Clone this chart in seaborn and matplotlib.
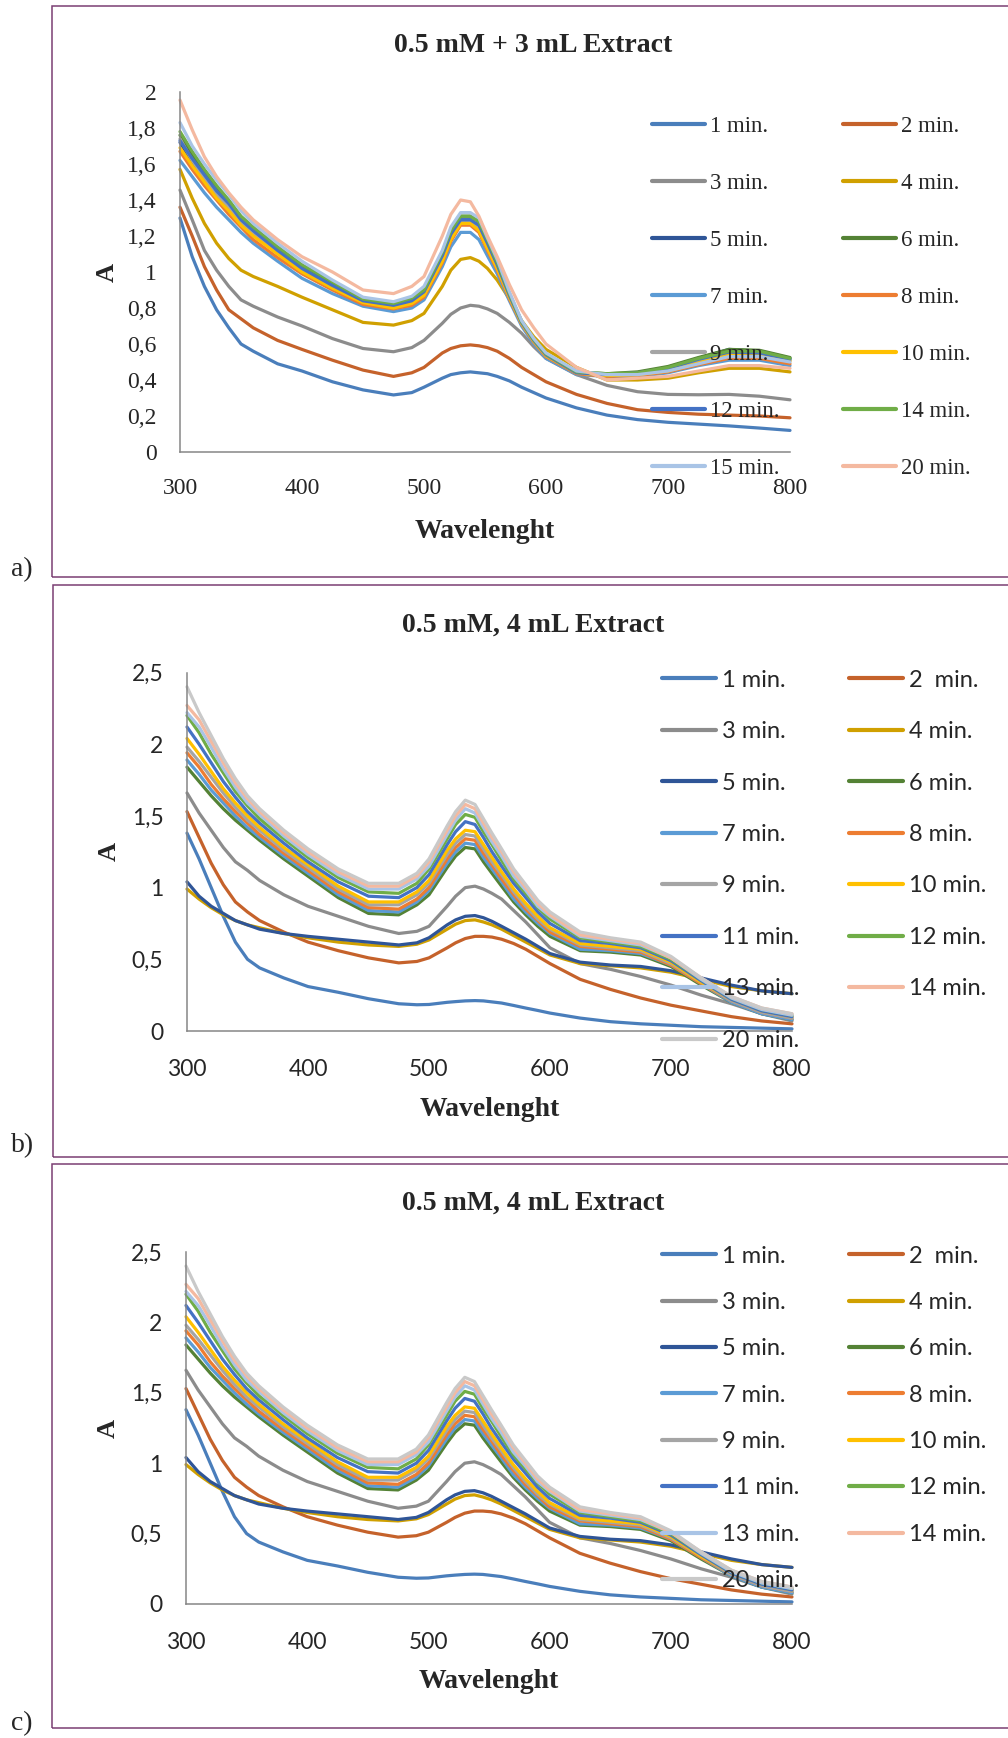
import numpy as np
import pandas as pd
import matplotlib
matplotlib.use("Agg")
import matplotlib.pyplot as plt
import seaborn as sns
from matplotlib.patches import Rectangle

# wavelengths (nm) sampled from the spectra
wl = [300, 310, 320, 330, 340, 350, 360, 380, 400, 425, 450, 475, 490, 500, 515, 522,
      530, 538, 545, 552, 560, 570, 580, 590, 600, 625, 650, 675, 700, 725, 750, 775, 800]

# ---- panel a: 0.5 mM + 3 mL extract ----
a_labels = ["1 min.", "2 min.", "3 min.", "4 min.", "5 min.", "6 min.", "7 min.",
            "8 min.", "9 min.", "10 min.", "12 min.", "14 min.", "15 min.", "20 min."]
a_1 = [1.30, 1.085, 0.92, 0.79, 0.69, 0.60, 0.56, 0.49, 0.45, 0.39, 0.345, 0.317, 0.33, 0.36,
       0.41, 0.43, 0.44, 0.445, 0.44, 0.435, 0.42, 0.395, 0.36, 0.33, 0.30, 0.245, 0.205,
       0.18, 0.165, 0.155, 0.145, 0.133, 0.12]
a_2 = [1.36, 1.20, 1.03, 0.90, 0.79, 0.74, 0.69, 0.62, 0.57, 0.51, 0.455, 0.42, 0.44, 0.47,
       0.55, 0.575, 0.59, 0.595, 0.59, 0.58, 0.56, 0.52, 0.47, 0.43, 0.39, 0.32, 0.27,
       0.235, 0.22, 0.21, 0.205, 0.20, 0.19]
a_3 = [1.455, 1.29, 1.12, 1.01, 0.92, 0.845, 0.81, 0.75, 0.70, 0.63, 0.575, 0.557, 0.58, 0.62,
       0.715, 0.765, 0.80, 0.815, 0.81, 0.795, 0.77, 0.72, 0.66, 0.585, 0.52, 0.43, 0.37,
       0.335, 0.32, 0.318, 0.32, 0.31, 0.29]
a_4 = [1.57, 1.41, 1.27, 1.16, 1.075, 1.01, 0.975, 0.92, 0.86, 0.79, 0.72, 0.705, 0.73, 0.77,
       0.92, 1.01, 1.07, 1.08, 1.06, 1.02, 0.955, 0.85, 0.73, 0.64, 0.57, 0.47, 0.40,
       0.40, 0.41, 0.44, 0.465, 0.465, 0.445]
a_5 = [1.72, 1.61, 1.52, 1.43, 1.36, 1.28, 1.21, 1.11, 1.01, 0.92, 0.835, 0.81, 0.835, 0.88,
       1.08, 1.20, 1.29, 1.29, 1.25, 1.15, 1.03, 0.87, 0.72, 0.62, 0.54, 0.44, 0.43,
       0.44, 0.47, 0.52, 0.57, 0.56, 0.52]
a_6 = [1.76, 1.65, 1.55, 1.46, 1.39, 1.30, 1.24, 1.13, 1.03, 0.935, 0.845, 0.82, 0.85, 0.895,
       1.10, 1.22, 1.31, 1.31, 1.28, 1.17, 1.05, 0.88, 0.725, 0.625, 0.545, 0.445, 0.435,
       0.445, 0.475, 0.525, 0.57, 0.565, 0.525]
a_7 = [1.62, 1.53, 1.44, 1.36, 1.29, 1.22, 1.16, 1.06, 0.965, 0.88, 0.81, 0.78, 0.80, 0.845,
       1.03, 1.14, 1.22, 1.22, 1.18, 1.09, 0.99, 0.84, 0.70, 0.60, 0.52, 0.43, 0.42,
       0.42, 0.44, 0.48, 0.51, 0.51, 0.48]
a_8 = [1.67, 1.57, 1.48, 1.40, 1.32, 1.25, 1.18, 1.08, 0.99, 0.90, 0.82, 0.795, 0.815, 0.86,
       1.05, 1.17, 1.26, 1.26, 1.22, 1.12, 1.01, 0.85, 0.71, 0.61, 0.53, 0.435, 0.42,
       0.425, 0.445, 0.485, 0.52, 0.52, 0.49]
a_9 = [1.74, 1.62, 1.52, 1.43, 1.36, 1.28, 1.21, 1.11, 1.01, 0.915, 0.835, 0.805, 0.83, 0.875,
       1.07, 1.19, 1.28, 1.28, 1.24, 1.14, 1.03, 0.86, 0.715, 0.615, 0.535, 0.44, 0.425,
       0.43, 0.455, 0.50, 0.55, 0.545, 0.51]
a_10 = [1.69, 1.59, 1.50, 1.41, 1.34, 1.26, 1.20, 1.10, 1.00, 0.91, 0.83, 0.80, 0.825, 0.87,
        1.06, 1.18, 1.27, 1.27, 1.23, 1.13, 1.02, 0.86, 0.715, 0.615, 0.535, 0.44, 0.425,
        0.43, 0.45, 0.495, 0.54, 0.54, 0.505]
a_12 = [1.73, 1.63, 1.54, 1.45, 1.38, 1.29, 1.23, 1.12, 1.02, 0.925, 0.84, 0.815, 0.84, 0.89,
        1.09, 1.21, 1.29, 1.29, 1.26, 1.16, 1.04, 0.87, 0.72, 0.62, 0.54, 0.44, 0.43,
        0.44, 0.465, 0.515, 0.555, 0.55, 0.515]
a_14 = [1.78, 1.67, 1.57, 1.48, 1.40, 1.31, 1.25, 1.14, 1.04, 0.945, 0.85, 0.825, 0.855, 0.90,
        1.11, 1.23, 1.31, 1.31, 1.28, 1.18, 1.055, 0.88, 0.725, 0.625, 0.545, 0.445, 0.435,
        0.44, 0.47, 0.52, 0.56, 0.56, 0.52]
a_15 = [1.83, 1.70, 1.60, 1.51, 1.43, 1.34, 1.27, 1.16, 1.06, 0.955, 0.86, 0.835, 0.865, 0.92,
        1.12, 1.25, 1.33, 1.33, 1.30, 1.19, 1.07, 0.89, 0.73, 0.63, 0.55, 0.45, 0.43,
        0.43, 0.45, 0.49, 0.53, 0.53, 0.50]
a_20 = [1.955, 1.79, 1.64, 1.53, 1.44, 1.36, 1.29, 1.18, 1.085, 1.00, 0.90, 0.88, 0.92, 0.975,
        1.20, 1.32, 1.40, 1.39, 1.31, 1.20, 1.085, 0.93, 0.79, 0.69, 0.60, 0.47, 0.40,
        0.41, 0.42, 0.45, 0.48, 0.48, 0.465]
a_values = [a_1, a_2, a_3, a_4, a_5, a_6, a_7, a_8, a_9, a_10, a_12, a_14, a_15, a_20]

# ---- panels b and c: 0.5 mM, 4 mL extract ----
b_labels = ["1 min.", "2  min.", "3 min.", "4 min.", "5 min.", "6 min.", "7 min.", "8 min.",
            "9 min.", "10 min.", "11 min.", "12 min.", "13 min.", "14 min.", "20 min."]
b_1 = [1.38, 1.20, 1.00, 0.80, 0.62, 0.50, 0.44, 0.37, 0.31, 0.27, 0.225, 0.19, 0.183, 0.185,
       0.20, 0.205, 0.21, 0.212, 0.21, 0.203, 0.195, 0.178, 0.16, 0.143, 0.125, 0.09, 0.065,
       0.05, 0.04, 0.03, 0.025, 0.02, 0.015]
b_2 = [1.53, 1.35, 1.17, 1.02, 0.90, 0.83, 0.77, 0.69, 0.62, 0.56, 0.51, 0.475, 0.485, 0.51,
       0.58, 0.615, 0.645, 0.66, 0.66, 0.655, 0.64, 0.61, 0.57, 0.52, 0.47, 0.36, 0.29,
       0.23, 0.18, 0.14, 0.10, 0.07, 0.05]
b_3 = [1.66, 1.52, 1.40, 1.28, 1.18, 1.12, 1.05, 0.95, 0.87, 0.80, 0.73, 0.68, 0.695, 0.73,
       0.87, 0.94, 1.00, 1.01, 0.99, 0.96, 0.92, 0.84, 0.76, 0.67, 0.58, 0.47, 0.43,
       0.38, 0.32, 0.25, 0.19, 0.12, 0.07]
b_4 = [0.99, 0.92, 0.86, 0.81, 0.77, 0.74, 0.72, 0.68, 0.65, 0.62, 0.60, 0.59, 0.605, 0.635,
       0.71, 0.745, 0.77, 0.775, 0.76, 0.74, 0.71, 0.665, 0.62, 0.575, 0.53, 0.47, 0.455,
       0.44, 0.41, 0.36, 0.31, 0.28, 0.26]
b_5 = [1.04, 0.94, 0.87, 0.82, 0.77, 0.74, 0.71, 0.68, 0.66, 0.64, 0.62, 0.60, 0.615, 0.65,
       0.74, 0.775, 0.80, 0.805, 0.79, 0.765, 0.73, 0.685, 0.64, 0.59, 0.54, 0.48, 0.46,
       0.45, 0.42, 0.37, 0.32, 0.28, 0.26]
b_6 = [1.84, 1.74, 1.64, 1.55, 1.47, 1.40, 1.33, 1.20, 1.08, 0.93, 0.82, 0.81, 0.88, 0.95,
       1.14, 1.22, 1.28, 1.27, 1.18, 1.10, 1.01, 0.90, 0.81, 0.73, 0.66, 0.56, 0.55,
       0.53, 0.45, 0.32, 0.20, 0.12, 0.08]
b_7 = [1.89, 1.79, 1.68, 1.59, 1.50, 1.42, 1.35, 1.22, 1.10, 0.95, 0.84, 0.83, 0.90, 0.98,
       1.17, 1.25, 1.31, 1.30, 1.21, 1.13, 1.04, 0.92, 0.83, 0.75, 0.68, 0.57, 0.56,
       0.54, 0.46, 0.33, 0.20, 0.12, 0.08]
b_8 = [1.94, 1.84, 1.72, 1.62, 1.53, 1.45, 1.37, 1.24, 1.12, 0.97, 0.86, 0.85, 0.92, 1.00,
       1.20, 1.28, 1.34, 1.33, 1.24, 1.16, 1.06, 0.95, 0.85, 0.77, 0.69, 0.59, 0.57,
       0.55, 0.46, 0.33, 0.21, 0.13, 0.09]
b_9 = [1.98, 1.88, 1.77, 1.66, 1.56, 1.47, 1.40, 1.26, 1.14, 0.99, 0.88, 0.88, 0.95, 1.03,
       1.23, 1.31, 1.37, 1.36, 1.27, 1.18, 1.09, 0.97, 0.87, 0.78, 0.71, 0.60, 0.58,
       0.56, 0.47, 0.34, 0.21, 0.13, 0.09]
b_10 = [2.04, 1.93, 1.81, 1.69, 1.59, 1.50, 1.42, 1.28, 1.16, 1.01, 0.90, 0.90, 0.97, 1.05,
        1.26, 1.34, 1.40, 1.39, 1.30, 1.21, 1.11, 0.99, 0.89, 0.80, 0.72, 0.61, 0.59,
        0.57, 0.48, 0.34, 0.22, 0.14, 0.10]
b_11 = [2.12, 2.00, 1.87, 1.74, 1.63, 1.53, 1.45, 1.31, 1.18, 1.04, 0.94, 0.93, 1.00, 1.09,
        1.30, 1.39, 1.46, 1.44, 1.35, 1.25, 1.15, 1.03, 0.93, 0.83, 0.75, 0.63, 0.61,
        0.58, 0.49, 0.35, 0.22, 0.14, 0.10]
b_12 = [2.20, 2.08, 1.93, 1.80, 1.67, 1.57, 1.48, 1.34, 1.21, 1.07, 0.97, 0.96, 1.03, 1.13,
        1.34, 1.44, 1.51, 1.49, 1.39, 1.30, 1.19, 1.06, 0.96, 0.86, 0.78, 0.65, 0.62,
        0.59, 0.50, 0.36, 0.23, 0.15, 0.11]
b_13 = [2.22, 2.12, 1.98, 1.83, 1.70, 1.59, 1.51, 1.36, 1.23, 1.09, 0.99, 0.99, 1.06, 1.15,
        1.37, 1.47, 1.55, 1.52, 1.42, 1.32, 1.22, 1.08, 0.98, 0.87, 0.80, 0.66, 0.63,
        0.60, 0.51, 0.36, 0.23, 0.15, 0.11]
b_14 = [2.27, 2.17, 2.02, 1.87, 1.73, 1.62, 1.53, 1.38, 1.25, 1.11, 1.01, 1.01, 1.08, 1.18,
        1.40, 1.50, 1.58, 1.55, 1.45, 1.35, 1.25, 1.11, 1.00, 0.89, 0.81, 0.67, 0.64,
        0.61, 0.51, 0.37, 0.24, 0.16, 0.12]
b_20 = [2.40, 2.22, 2.06, 1.90, 1.76, 1.64, 1.55, 1.40, 1.27, 1.13, 1.03, 1.03, 1.10, 1.20,
        1.43, 1.53, 1.61, 1.58, 1.48, 1.38, 1.27, 1.13, 1.02, 0.91, 0.83, 0.69, 0.65,
        0.62, 0.52, 0.37, 0.24, 0.16, 0.12]
b_values = [b_1, b_2, b_3, b_4, b_5, b_6, b_7, b_8, b_9, b_10, b_11, b_12, b_13, b_14, b_20]

# Excel-like series colours
a_colors = ["#4a7ebb", "#c5622b", "#8c8c8c", "#d0a000", "#2f5597", "#548235", "#5b9bd5",
            "#ed7d31", "#a5a5a5", "#ffc000", "#4472c4", "#70ad47", "#a9c4e6", "#f4b9a0"]
b_colors = ["#4a7ebb", "#c5622b", "#8c8c8c", "#d0a000", "#2f5597", "#548235", "#5b9bd5",
            "#ed7d31", "#a5a5a5", "#ffc000", "#4472c4", "#70ad47", "#a9c4e6", "#f4b9a0",
            "#c9c9c9"]

for v in a_values + b_values:
    assert len(v) == len(wl)

W, H = 1008, 1738
SERIF = "Liberation Serif"
SANS = "Lato"
BORDER = "#7b3f73"

sns.set_style("white")
plt.rcParams["font.family"] = [SERIF, "DejaVu Sans"]

fig = plt.figure(figsize=(W / 100, H / 100), dpi=100)


def fx(x):
    return x / W


def fy(y):
    return 1 - y / H


def yfmt(v):
    return f"{v:g}".replace(".", ",")


def panel(labels, values, colors, box, axrect, ymax, ystep, tick_font, xpad,
          title, title_y, xlab_y, alab_x, tag, tag_y,
          leg_x, leg_y, leg_pitch, leg_font, leg_size, colspace):
    # frame around each chart
    x0, y0, y1 = box
    fig.add_artist(Rectangle((fx(x0), fy(y1)), 1.1 - fx(x0), (y1 - y0) / H,
                             transform=fig.transFigure, fill=False,
                             edgecolor=BORDER, linewidth=1.1))
    left, top, right, bottom = axrect
    plt.rcParams["font.family"] = [tick_font[0], "DejaVu Sans"]
    ax = fig.add_axes([fx(left), fy(bottom), (right - left) / W, (bottom - top) / H])
    df = pd.DataFrame({"wl": np.tile(wl, len(labels)),
                       "A": np.concatenate(values),
                       "t": np.repeat(labels, len(wl))})
    sns.lineplot(data=df, x="wl", y="A", hue="t", hue_order=labels,
                 palette=dict(zip(labels, colors)), linewidth=2.3, sort=False,
                 estimator=None, legend=False, ax=ax)
    ax.set_xlim(300, 800)
    ax.set_ylim(0, ymax)
    ax.set_xticks(range(300, 801, 100))
    yt = np.arange(0, ymax + 1e-9, ystep)
    ax.set_yticks(yt)
    ax.set_yticklabels([yfmt(v) for v in yt])
    ax.set_xlabel("")
    ax.set_ylabel("")
    ax.tick_params(length=0, labelsize=tick_font[1], labelfontfamily=tick_font[0])
    ax.tick_params(axis="x", pad=xpad)
    ax.tick_params(axis="y", pad=17)
    for t in ax.xaxis.get_major_ticks() + ax.yaxis.get_major_ticks():
        t.label1.set_fontfamily([tick_font[0], "DejaVu Sans"])
    for s in ["top", "right"]:
        ax.spines[s].set_visible(False)
    for s in ["left", "bottom"]:
        ax.spines[s].set_color("#868686")
        ax.spines[s].set_linewidth(1.1)
    for ln in ax.get_lines():
        ln.set_clip_on(False)
        ln.set_solid_joinstyle("round")

    fig.text(fx(533), fy(title_y), title, ha="center", va="center",
             fontsize=20, fontweight="bold", family=SERIF)
    fig.text(fx((left + right) / 2), fy(xlab_y), "Wavelenght", ha="center",
             va="center", fontsize=20, fontweight="bold", family=SERIF)
    fig.text(fx(alab_x), fy((top + bottom) / 2), "A", ha="center", va="center",
             rotation=90, fontsize=19, fontweight="bold", family=SERIF)
    fig.text(fx(11), fy(tag_y), tag, ha="left", va="center", fontsize=20,
             family=SERIF)

    # legend: Excel fills rows first, matplotlib fills columns first
    lines = ax.get_lines()[:len(labels)]
    order = list(range(0, len(labels), 2)) + list(range(1, len(labels), 2))
    fs_px = leg_size * 100 / 72
    leg = ax.legend([lines[i] for i in order], [labels[i] for i in order],
                    ncol=2, frameon=False, loc="upper left",
                    bbox_to_anchor=(fx(leg_x), fy(leg_y - fs_px * 0.31)),
                    bbox_transform=fig.transFigure, borderpad=0, borderaxespad=0,
                    handlelength=2.3, handletextpad=0.25, columnspacing=colspace,
                    labelspacing=(leg_pitch - fs_px * 0.9) / fs_px,
                    prop={"family": leg_font, "size": leg_size})
    for h in leg.get_lines():
        h.set_linewidth(3)
    return ax


panel(a_labels, a_values, a_colors, (52, 5.5, 577), (180, 92, 790, 452),
      2, 0.2, (SERIF, 17), 19, "0.5 mM + 3 mL Extract", 46, 532, 107, "a)", 570,
      652, 123, 56.6, SERIF, 16.5, 2.75)

panel(b_labels, b_values, b_colors, (53, 585.5, 1157), (187, 672.5, 792, 1031),
      2.5, 0.5, (SANS, 16.5), 20, "0.5 mM, 4 mL Extract", 625, 1109, 109,
      "b)", 1146, 662, 677, 51.7, SANS, 17, 2.08)

panel(b_labels, b_values, b_colors, (52, 1164, 1728), (186, 1252, 792, 1604),
      2.5, 0.5, (SANS, 16.5), 20, "0.5 mM, 4 mL Extract", 1203, 1682, 108,
      "c)", 1724, 662, 1253, 46.6, SANS, 17, 2.08)

fig.savefig("out.png", dpi=100)
